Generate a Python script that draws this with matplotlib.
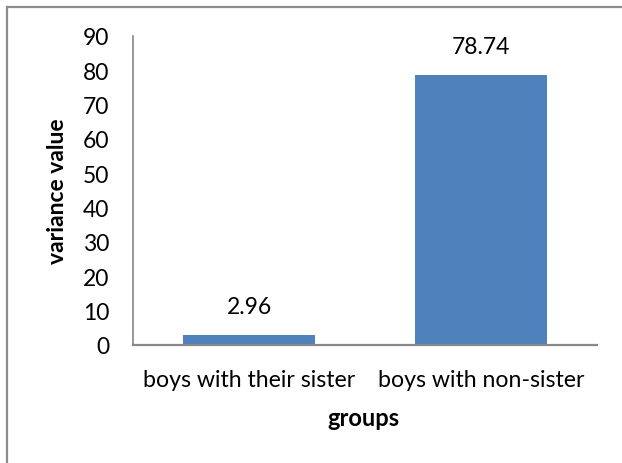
import matplotlib.pyplot as plt
from matplotlib.lines import Line2D

categories = ['boys with their sister', 'boys with non-sister']
values = [2.96, 78.74]
labels = ['2.96', '78.74']
yticks = [0, 10, 20, 30, 40, 50, 60, 70, 80, 90]

plt.rcParams['font.family'] = ['Lato', 'DejaVu Sans']

W, H = 622, 464
fig = plt.figure(figsize=(W / 100, H / 100), dpi=100)

# chart frame: only top and left edges show, the rest is cropped off
fig.lines.append(Line2D([8 / W, 1], [1 - 7.5 / H, 1 - 7.5 / H], transform=fig.transFigure,
                        color='#8c8c8c', linewidth=1.6))
fig.lines.append(Line2D([7.5 / W, 7.5 / W], [0, 1 - 7.5 / H], transform=fig.transFigure,
                        color='#8c8c8c', linewidth=1.6))

ax = fig.add_axes([133 / W, 1 - 346 / H, 464 / W, 309 / H])
x = range(len(categories))
ax.bar(x, values, width=0.573, color='#4F81BD')
for xi, v, lab in zip(x, values, labels):
    ax.annotate(lab, (xi, v), xytext=(0, 13), textcoords='offset points',
                ha='center', va='bottom', fontsize=16.5)

ax.set_xlim(-0.5, 1.5)
ax.set_ylim(0, 90)
ax.set_yticks(yticks)
ax.set_xticks(list(x))
ax.set_xticklabels(categories, fontsize=16.7)
ax.tick_params(axis='y', length=0, labelsize=16.5, pad=17)
ax.tick_params(axis='x', length=0, pad=17)

for s in ['top', 'right']:
    ax.spines[s].set_visible(False)
ax.spines['left'].set_color('#888888')
ax.spines['bottom'].set_color('#888888')
ax.spines['left'].set_linewidth(1.2)
ax.spines['bottom'].set_linewidth(1.6)

ax.set_ylabel('variance value', fontsize=16.5, fontweight='bold', labelpad=11)
fig.text(363 / W, 1 - 419 / H, 'groups', ha='center', va='center',
         fontsize=17, fontweight='bold')

fig.savefig('out.png', dpi=100)
